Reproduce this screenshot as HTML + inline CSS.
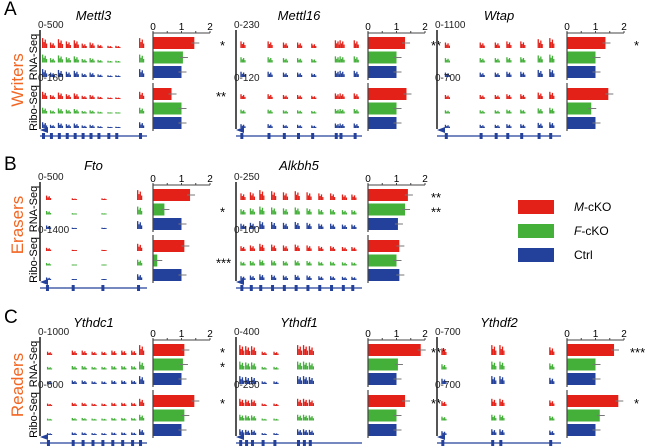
<!DOCTYPE html>
<html><head><meta charset="utf-8"><style>
html,body{margin:0;padding:0;background:#fff;width:658px;height:447px;overflow:hidden}
svg{font-family:"Liberation Sans",sans-serif;display:block}
</style></head><body>
<svg id="fig" width="658" height="447" viewBox="0 0 658 447"></svg>
<script>
const genes = ["Mettl3","Mettl16","Wtap","Fto","Alkbh5","Ythdc1","Ythdf1","Ythdf2"];
const rnaValues = [[1.45,1.05,1.0],[1.3,1.0,1.0],[1.35,1.0,1.0],[1.3,0.4,1.0],[1.4,1.3,1.05],[1.1,1.05,1.0],[1.85,1.05,1.0],[1.65,1.0,1.0]];
const riboValues = [[0.65,1.0,1.0],[1.35,1.0,1.0],[1.45,0.85,1.0],[1.1,0.15,1.0],[1.1,1.0,1.1],[1.45,1.1,1.0],[1.3,1.0,1.0],[1.8,1.15,1.0]];
const rnaStars = [["*","",""],["**","",""],["*","",""],["","*",""],["**","**",""],["*","*",""],["***","",""],["***","",""]];
const riboStars = [["**","",""],["","",""],["","",""],["","***",""],["","",""],["*","",""],["**","",""],["*","",""]];
const rnaScale = ["0-500","0-230","0-1100","0-500","0-250","0-1000","0-400","0-700"];
const riboScale = ["0-160","0-120","0-700","0-1400","0-100","0-600","0-250","0-700"];
const axisTicks = [0,1,2];
const minorTicks = [0.5,1.5];
const legendLabels = [["M","-cKO"],["F","-cKO"],["","Ctrl"]];
const exons = [
 [[0,0.9],[0.08,0.5],[0.16,0.8],[0.24,0.6],[0.32,0.7],[0.4,0.4],[0.48,0.5],[0.56,0.3],[0.66,0.2],[0.74,0.2],[0.98,0.9]],
 [[0.02,0.6],[0.25,0.6],[0.38,0.5],[0.5,0.5],[0.62,0.4],[0.82,0.7],[0.86,0.7],[0.98,0.7]],
 [[0.05,0.5],[0.35,0.5],[0.48,0.5],[0.58,0.6],[0.7,0.6],[0.85,0.8],[0.95,0.9]],
 [[0.04,0.4],[0.3,0.15],[0.6,0.15],[0.96,0.9]],
 [[0.02,0.6],[0.1,0.7],[0.18,0.9],[0.28,0.8],[0.38,0.7],[0.48,0.8],[0.58,0.7],[0.68,0.6],[0.78,0.6],[0.88,0.5],[0.96,0.5]],
 [[0.05,0.3],[0.3,0.4],[0.4,0.4],[0.5,0.3],[0.6,0.3],[0.7,0.4],[0.8,0.4],[0.9,0.4],[0.98,0.9]],
 [[0.01,0.9],[0.06,0.8],[0.11,0.8],[0.2,0.3],[0.3,0.3],[0.5,0.9],[0.55,0.9],[0.6,0.8]],
 [[0.02,0.6],[0.45,0.9],[0.52,0.9],[0.95,0.7]]
];
const colX = [[40,153],[236,368],[437,567]];
const rowY = [[20,33],[170,185],[327,340]];
const geneLayout = [[0,0],[0,1],[0,2],[1,0],[1,1],[2,0],[2,1],[2,2]];
const colors = ["#e32119","#44b03a","#23409a"];
const UNIT = 28.5, BH = 12;
const svg = document.getElementById('fig');
const NS = "http://www.w3.org/2000/svg";
function el(tag, attrs, parent, text){const e=document.createElementNS(NS,tag);for(const k in attrs)e.setAttribute(k,attrs[k]);if(text!==undefined)e.textContent=text;(parent||svg).appendChild(e);return e;}
function xScale(v, x0){return x0 + v*UNIT;}

const letters=[["A",15],["B",170],["C",323]], cats=[["Writers",80],["Erasers",225],["Readers",385]];
letters.forEach(([t,y])=>{const e=el('text',{x:4,y:y,'font-size':19},svg,t);

});
cats.forEach(([t,y])=>{const e=el('text',{x:0,y:0,'font-size':17,fill:'#f26522','text-anchor':'middle',transform:`translate(23,${y}) rotate(-90)`},svg,t);

});

genes.forEach((g,gi)=>{
  const [r,c]=geneLayout[gi];
  const tx=colX[c][0], ax=colX[c][1], ty=rowY[r][0], ay=rowY[r][1];
  const grp=el('g',{});
  
  
  const tw = ax - tx - 6;
  const t=el('text',{x:tx+tw/2,y:ty,'font-size':13,'font-style':'italic','text-anchor':'middle'},grp,g);
  
  
  const vl=el('line',{x1:tx,x2:tx,y1:ay-3,y2:ay+96,stroke:'#555','stroke-width':2},grp);
  
  
  const groups=[[rnaValues,rnaStars,rnaScale,ay+9],[riboValues,riboStars,riboScale,ay+60]];
  groups.forEach(([vals,stars,scale,y0],k)=>{
    const s=el('text',{x:tx-2,y:k?y0-12:ay-5,'font-size':10,fill:'#222'},grp,scale[gi]);
    
    
    if(c===0){
      const lb=el('text',{x:0,y:0,'font-size':11,'text-anchor':'middle',transform:`translate(37,${y0+15}) rotate(-90)`},grp,k?'Ribo-Seq':'RNA-Seq');
      
      
    }
    for(let i=0;i<3;i++){
      const by=y0+i*14.5;
      exons[gi].forEach(([p,h])=>{
        const base=h*(k?8:11)*(i===0?1:0.8);
        const px=tx+4+p*(tw-8);
        [1,0.6,0.85,0.45].forEach((f,j)=>{
          const hh=Math.max(1,base*f);
          const pk=el('rect',{x:px+j*1.3-2,y:by+6-hh,width:1.3,height:hh,fill:colors[i]},grp);
          
          
        });
      });
      const v=vals[gi][i];
      const b=el('rect',{x:ax,y:by-BH/2+1,width:xScale(v,ax)-ax,height:BH,fill:colors[i]},grp);
      
      
      const eb=el('line',{x1:xScale(v,ax)-3,x2:xScale(v,ax)+5,y1:by+1,y2:by+1,stroke:'#777','stroke-width':1},grp);
      
      
      const st=stars[gi][i];
      if(st){const se=el('text',{x:ax+UNIT*2+(st.length>1?6:10),y:by+8,'font-size':13},grp,st);
        
        }
    }
    const bl=el('line',{x1:ax,x2:ax,y1:y0-10,y2:y0+38,stroke:'#444','stroke-width':1.2},grp);
    
    
  });
  const xa=el('line',{x1:ax,x2:xScale(2,ax),y1:ay,y2:ay,stroke:'#444','stroke-width':1},grp);
  
  
  axisTicks.concat(minorTicks).forEach(tv=>{
    const tk=el('line',{x1:xScale(tv,ax),x2:xScale(tv,ax),y1:ay,y2:ay-2,stroke:'#444'},grp);
    
    
  });
  axisTicks.forEach(tv=>{
    const tl=el('text',{x:xScale(tv,ax),y:ay-3,'font-size':10,'text-anchor':'middle'},grp,String(tv));
    
    
  });
  const gy=ay+103;
  const gl=el('line',{x1:tx,x2:tx+tw,y1:gy,y2:gy,stroke:'#23409a','stroke-width':1.2},grp);
  
  
  exons[gi].forEach(([p])=>{const ex=el('rect',{x:tx+2+p*(tw-8),y:gy-3,width:3,height:6,fill:'#23409a'},grp);
    
    });
  const ar=el('path',{d:`M${tx} ${gy-6} l8 -3 v6 z`,fill:'#23409a'},grp);
  
  
});

legendLabels.forEach(([it,rest],i)=>{
  const y=200+i*24;
  const r=el('rect',{x:518,y:y,width:36,height:14,fill:colors[i]});
  
  
  const t=el('text',{x:574,y:y+11,'font-size':12});
  
  
  if(it){el('tspan',{'font-style':'italic'},t,it);}
  el('tspan',{},t,rest);
});
</script>
</body></html>
